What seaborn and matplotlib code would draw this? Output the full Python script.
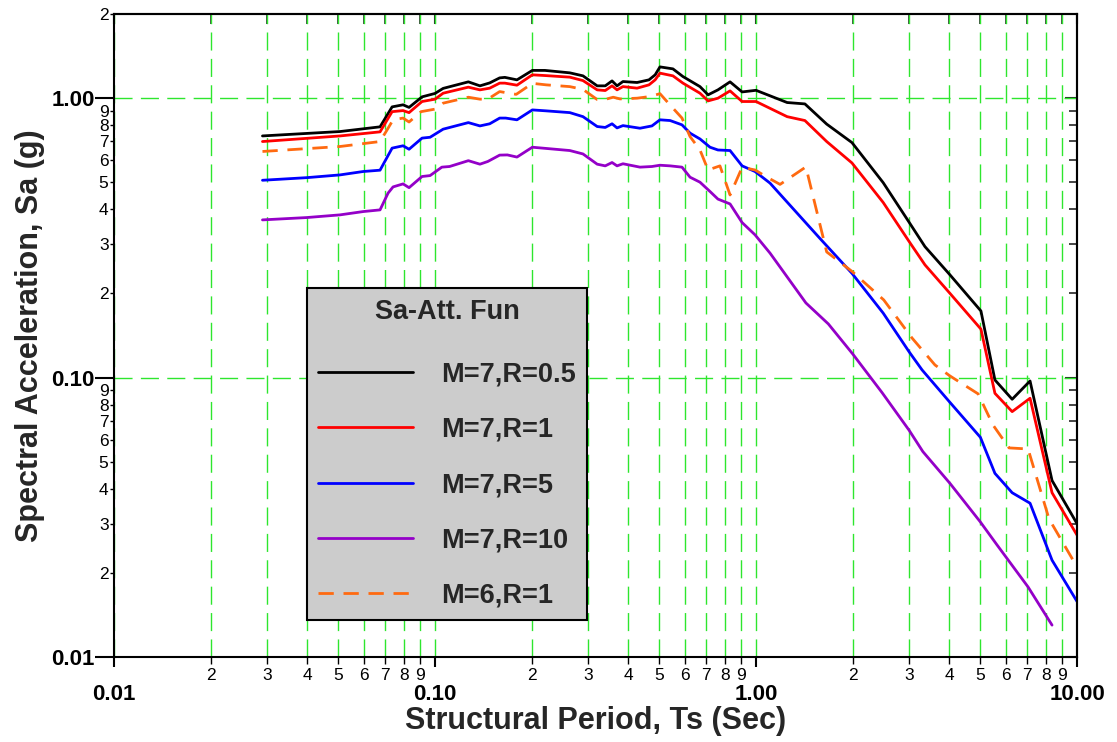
import matplotlib
matplotlib.use("Agg")
import matplotlib.pyplot as plt
import seaborn as sns
from matplotlib.ticker import FixedLocator, FixedFormatter, NullFormatter

# ---------------- data ----------------
period_r05 = [0.029, 0.0506, 0.0674, 0.0735, 0.0795, 0.083, 0.0911, 0.1, 0.106, 0.127,
              0.138, 0.148, 0.159, 0.165, 0.18, 0.201, 0.22, 0.263, 0.289, 0.32,
              0.339, 0.356, 0.369, 0.385, 0.426, 0.464, 0.485, 0.502, 0.551, 0.592,
              0.669, 0.709, 0.761, 0.83, 0.905, 1.0, 1.25, 1.42, 1.66, 1.99,
              2.49, 3.02, 3.36, 4.02, 5.02, 5.55, 6.28, 7.14, 8.36, 10.0]
sa_r05 = [0.732, 0.759, 0.789, 0.930, 0.946, 0.926, 1.010, 1.039, 1.083, 1.143,
          1.106, 1.133, 1.181, 1.186, 1.162, 1.256, 1.256, 1.231, 1.201, 1.106,
          1.106, 1.152, 1.106, 1.146, 1.137, 1.162, 1.211, 1.293, 1.272, 1.194,
          1.099, 1.027, 1.070, 1.143, 1.052, 1.066, 0.964, 0.953, 0.807, 0.693,
          0.498, 0.355, 0.294, 0.233, 0.173, 0.098, 0.0836, 0.0972, 0.0428, 0.0300]

period_r1 = period_r05
sa_r1 = [0.699, 0.732, 0.757, 0.894, 0.902, 0.887, 0.972, 0.991, 1.041, 1.094,
         1.070, 1.085, 1.131, 1.131, 1.112, 1.211, 1.204, 1.188, 1.155, 1.070,
         1.064, 1.106, 1.070, 1.099, 1.085, 1.115, 1.162, 1.228, 1.201, 1.131,
         1.041, 0.977, 0.999, 1.061, 0.972, 0.972, 0.858, 0.831, 0.699, 0.586,
         0.423, 0.303, 0.253, 0.200, 0.149, 0.0878, 0.0755, 0.0843, 0.0387, 0.0273]

period_r5 = [0.029, 0.0398, 0.0506, 0.0597, 0.0674, 0.0735, 0.0795, 0.083, 0.0911, 0.0965,
             0.106, 0.127, 0.138, 0.148, 0.159, 0.166, 0.18, 0.201, 0.222, 0.263,
             0.289, 0.32, 0.339, 0.356, 0.369, 0.385, 0.435, 0.474, 0.502, 0.54,
             0.588, 0.623, 0.669, 0.719, 0.761, 0.83, 0.905, 0.993, 1.106, 1.58,
             1.99, 2.49, 3.0, 3.29, 4.0, 5.0, 5.55, 6.28, 7.14, 8.36, 10.0]
sa_r5 = [0.508, 0.519, 0.531, 0.546, 0.552, 0.662, 0.675, 0.656, 0.719, 0.724,
         0.774, 0.817, 0.795, 0.809, 0.848, 0.848, 0.836, 0.907, 0.900, 0.887,
         0.858, 0.791, 0.785, 0.809, 0.782, 0.797, 0.780, 0.795, 0.836, 0.831,
         0.802, 0.749, 0.714, 0.667, 0.652, 0.649, 0.572, 0.546, 0.496, 0.315,
         0.236, 0.170, 0.1235, 0.1065, 0.082, 0.0611, 0.0454, 0.0387, 0.0355, 0.0222, 0.0158]

period_r10 = [0.029, 0.0398, 0.0506, 0.0597, 0.0674, 0.0714, 0.074, 0.0795, 0.083, 0.0911,
              0.0965, 0.105, 0.111, 0.127, 0.138, 0.146, 0.159, 0.168, 0.18, 0.201,
              0.223, 0.263, 0.289, 0.32, 0.339, 0.356, 0.369, 0.385, 0.435, 0.474,
              0.502, 0.54, 0.588, 0.623, 0.669, 0.719, 0.761, 0.83, 0.905, 0.993,
              1.106, 1.43, 1.68, 2.0, 2.47, 3.0, 3.31, 4.02, 4.99, 5.63, 7.04, 8.36]
sa_r10 = [0.3665, 0.3736, 0.382, 0.3925, 0.398, 0.457, 0.481, 0.493, 0.478, 0.524,
          0.528, 0.566, 0.569, 0.597, 0.580, 0.593, 0.625, 0.626, 0.615, 0.667,
          0.660, 0.649, 0.631, 0.580, 0.572, 0.588, 0.572, 0.582, 0.566, 0.569,
          0.575, 0.572, 0.566, 0.521, 0.500, 0.463, 0.435, 0.418, 0.3585, 0.324,
          0.2786, 0.1849, 0.1555, 0.1215, 0.0883, 0.0647, 0.0543, 0.0418, 0.0305, 0.0252, 0.0178, 0.0130]

period_m6 = [0.029, 0.0506, 0.0674, 0.0714, 0.074, 0.0795, 0.083, 0.0904, 0.1, 0.106,
             0.127, 0.138, 0.146, 0.159, 0.166, 0.179, 0.201, 0.222, 0.263, 0.289,
             0.32, 0.341, 0.359, 0.377, 0.426, 0.468, 0.502, 0.536, 0.588, 0.623,
             0.669, 0.709, 0.772, 0.83, 0.905, 0.993, 1.082, 1.188, 1.43, 1.66,
             1.99, 2.5, 3.06, 3.61, 4.02, 4.92, 5.47, 6.14, 7.04, 8.18, 10.0]
sa_m6 = [0.644, 0.671, 0.699, 0.780, 0.836, 0.848, 0.821, 0.894, 0.913, 0.959,
         1.007, 0.991, 0.991, 1.055, 1.046, 1.031, 1.129, 1.115, 1.099, 1.074,
         0.988, 0.991, 1.007, 0.993, 0.999, 1.013, 1.037, 0.953, 0.848, 0.728,
         0.652, 0.553, 0.572, 0.450, 0.565, 0.553, 0.521, 0.491, 0.567, 0.2815,
         0.2398, 0.1895, 0.1386, 0.1109, 0.1013, 0.0874, 0.0677, 0.0560, 0.0555, 0.0312, 0.0210]

series_labels = ["M=7,R=0.5", "M=7,R=1", "M=7,R=5", "M=7,R=10", "M=6,R=1"]
legend_title = "Sa-Att. Fun"
x_label = "Structural Period, Ts (Sec)"
y_label = "Spectral Acceleration, Sa (g)"

x_major = [0.01, 0.1, 1.0, 10.0]
x_major_labels = ["0.01", "0.10", "1.00", "10.00"]
y_major = [0.01, 0.1, 1.0]
y_major_labels = ["0.01", "0.10", "1.00"]
minor_digits = [2, 3, 4, 5, 6, 7, 8, 9]

# ---------------- style ----------------
sns.set_style("white")
plt.rcParams["font.family"] = ["Liberation Sans", "DejaVu Sans"]
plt.rcParams["axes.unicode_minus"] = False

colors = ["#000000", "#ff0000", "#0000ff", "#9400c8", "#ff6a10"]
styles = ["-", "-", "-", "-", (0, (5.5, 3.5))]
periods = [period_r05, period_r1, period_r5, period_r10, period_m6]
values = [sa_r05, sa_r1, sa_r5, sa_r10, sa_m6]

fig = plt.figure(figsize=(11.17, 7.42), dpi=100)
ax = fig.add_axes([0.1021, 0.1146, 0.8621, 0.8666])

for per, sa, lab, c, ls in zip(periods, values, series_labels, colors, styles):
    sns.lineplot(x=per, y=sa, ax=ax, color=c, linewidth=2.0, linestyle=ls,
                 label=lab, sort=False, estimator=None)

ax.set_xscale("log")
ax.set_yscale("log")
ax.set_xlim(0.01, 10)
ax.set_ylim(0.01, 2)

# ticks
x_minor = [d * dec for dec in (0.01, 0.1, 1.0) for d in minor_digits]
y_minor = [d * dec for dec in (0.01, 0.1) for d in minor_digits] + [2.0]
x_minor_labels = [str(d) for dec in (0.01, 0.1, 1.0) for d in minor_digits]
y_minor_labels = [str(d) for dec in (0.01, 0.1) for d in minor_digits] + ["2"]

ax.xaxis.set_major_locator(FixedLocator(x_major))
ax.xaxis.set_major_formatter(FixedFormatter(x_major_labels))
ax.xaxis.set_minor_locator(FixedLocator(x_minor))
ax.xaxis.set_minor_formatter(FixedFormatter(x_minor_labels))
ax.yaxis.set_major_locator(FixedLocator(y_major))
ax.yaxis.set_major_formatter(FixedFormatter(y_major_labels))
ax.yaxis.set_minor_locator(FixedLocator(y_minor))
ax.yaxis.set_minor_formatter(FixedFormatter(y_minor_labels))

ax.tick_params(axis="x", which="major", direction="out", length=7.5, width=1.5,
               labelsize=16, pad=12, bottom=True, top=False, colors="black")
ax.tick_params(axis="x", which="minor", direction="out", length=5, width=1.0,
               labelsize=12.5, pad=3, bottom=True, top=False, colors="black")
ax.tick_params(axis="y", which="major", direction="out", length=13.5, width=1.5,
               labelsize=16, pad=0.5, left=True, right=False, colors="black")
ax.tick_params(axis="y", which="minor", direction="out", length=3, width=1.0,
               labelsize=12.5, pad=1, left=True, right=False, colors="black")

for t in ax.get_xticklabels() + ax.get_yticklabels():
    t.set_fontweight("bold")

# inward ticks on the top and right frame
secx = ax.secondary_xaxis("top")
secx.xaxis.set_major_locator(FixedLocator(x_major))
secx.xaxis.set_minor_locator(FixedLocator(x_minor))
secx.xaxis.set_major_formatter(NullFormatter())
secx.xaxis.set_minor_formatter(NullFormatter())
secx.tick_params(which="major", direction="in", length=7.5, width=1.5)
secx.tick_params(which="minor", direction="in", length=7, width=1.2)
secx.spines["top"].set_linewidth(1.5)

secy = ax.secondary_yaxis("right")
secy.yaxis.set_major_locator(FixedLocator(y_major))
secy.yaxis.set_minor_locator(FixedLocator(y_minor))
secy.yaxis.set_major_formatter(NullFormatter())
secy.yaxis.set_minor_formatter(NullFormatter())
secy.tick_params(which="major", direction="in", length=8.5, width=1.5)
secy.tick_params(which="minor", direction="in", length=5.5, width=1.2)
secy.spines["right"].set_linewidth(1.5)

for s in ax.spines.values():
    s.set_linewidth(1.5)
    s.set_color("black")

# grid
grid_kw = dict(color="#2ee62e", linewidth=1.0, linestyle=(0, (13, 6)))
ax.set_axisbelow(True)
ax.xaxis.grid(True, which="both", **grid_kw)
ax.yaxis.grid(True, which="major", **grid_kw)
ax.yaxis.grid(False, which="minor")

# labels
ax.set_xlabel(x_label, fontsize=22, fontweight="bold")
ax.set_ylabel(y_label, fontsize=22, fontweight="bold")
ax.xaxis.set_label_coords(0.5, -0.076)
ax.yaxis.set_label_coords(-0.072, 0.5)

# legend
leg_size = 19.5
leg_spacing = 1.08
leg = ax.legend(loc="upper left", bbox_to_anchor=(0.2001, 0.5739), borderaxespad=0,
                title=legend_title, title_fontproperties={"weight": "bold", "size": leg_size},
                prop={"weight": "bold", "size": leg_size}, frameon=True, fancybox=False,
                framealpha=1, facecolor="#cccccc", edgecolor="black",
                handlelength=3.5, handletextpad=1.05, labelspacing=leg_spacing,
                borderpad=0.42)
leg.get_frame().set_linewidth(1.5)
# a little more room between the legend title and the first entry
leg._legend_box.sep = leg_spacing * leg_size + 5

fig.savefig("out.png", dpi=100)
